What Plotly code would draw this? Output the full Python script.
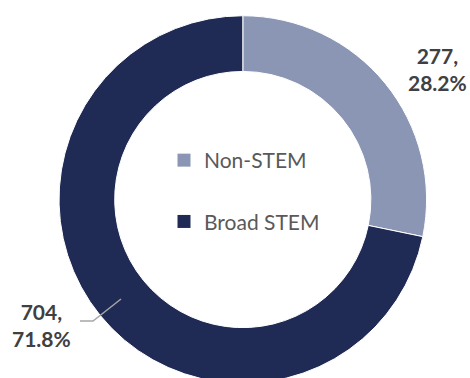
import plotly.graph_objects as go

# Headcount by field group
categories = ["Non-STEM", "Broad STEM"]
counts = [277, 704]
colors = ["#8B96B5", "#1F2A55"]

W, H = 470, 384
total = sum(counts)
shares = [c / total * 100 for c in counts]


def px(x, y):
    """Pixel position (from top-left) -> paper coordinates."""
    return x / W, (H - y) / H


fig = go.Figure()

fig.add_trace(go.Pie(
    labels=categories,
    values=counts,
    hole=0.697,
    sort=False,
    direction="clockwise",
    rotation=0,
    marker=dict(colors=colors, line=dict(color="white", width=1)),
    textinfo="none",
    hoverinfo="label+value+percent",
    showlegend=False,
    domain=dict(x=[0.1255, 0.9077], y=[0.0018, 0.959]),
))

# Legend entries shown inside the ring
for i, (name, col) in enumerate(zip(categories, colors)):
    fig.add_trace(go.Scatter(
        x=[None], y=[None], mode="markers", name=name,
        legendgroup=f"g{i}",
        marker=dict(symbol="square", size=13, color=col),
    ))

# Value labels
label_pos = [(437, 69), (41, 325)]
for c, s, (lx, ly) in zip(counts, shares, label_pos):
    ax, ay = px(lx, ly)
    fig.add_annotation(
        x=ax, y=ay, xref="paper", yref="paper",
        text=f"<b>{c},<br>{s:.1f}%</b>",
        showarrow=False, align="center",
        xanchor="center", yanchor="middle",
        font=dict(family="Lato", size=21, color="#404040"),
    )

# Leader line for the lower-left label
p1, p2, p3 = px(80, 321), px(93, 321), px(121, 299)
fig.add_shape(
    type="path", xref="paper", yref="paper",
    path=f"M {p1[0]},{p1[1]} L {p2[0]},{p2[1]} L {p3[0]},{p3[1]}",
    line=dict(color="#A6A6A6", width=1.5),
)

lgx, lgy = px(164, 140)
fig.update_layout(
    width=W, height=H,
    margin=dict(l=0, r=0, t=0, b=0),
    paper_bgcolor="white", plot_bgcolor="white",
    xaxis=dict(visible=False), yaxis=dict(visible=False),
    legend=dict(
        x=lgx, y=lgy, xanchor="left", yanchor="top",
        bgcolor="rgba(0,0,0,0)",
        font=dict(family="Lato", size=21, color="#595959"),
        tracegroupgap=31,
        itemclick=False, itemdoubleclick=False,
    ),
    showlegend=True,
)

fig.write_html("out.html")
